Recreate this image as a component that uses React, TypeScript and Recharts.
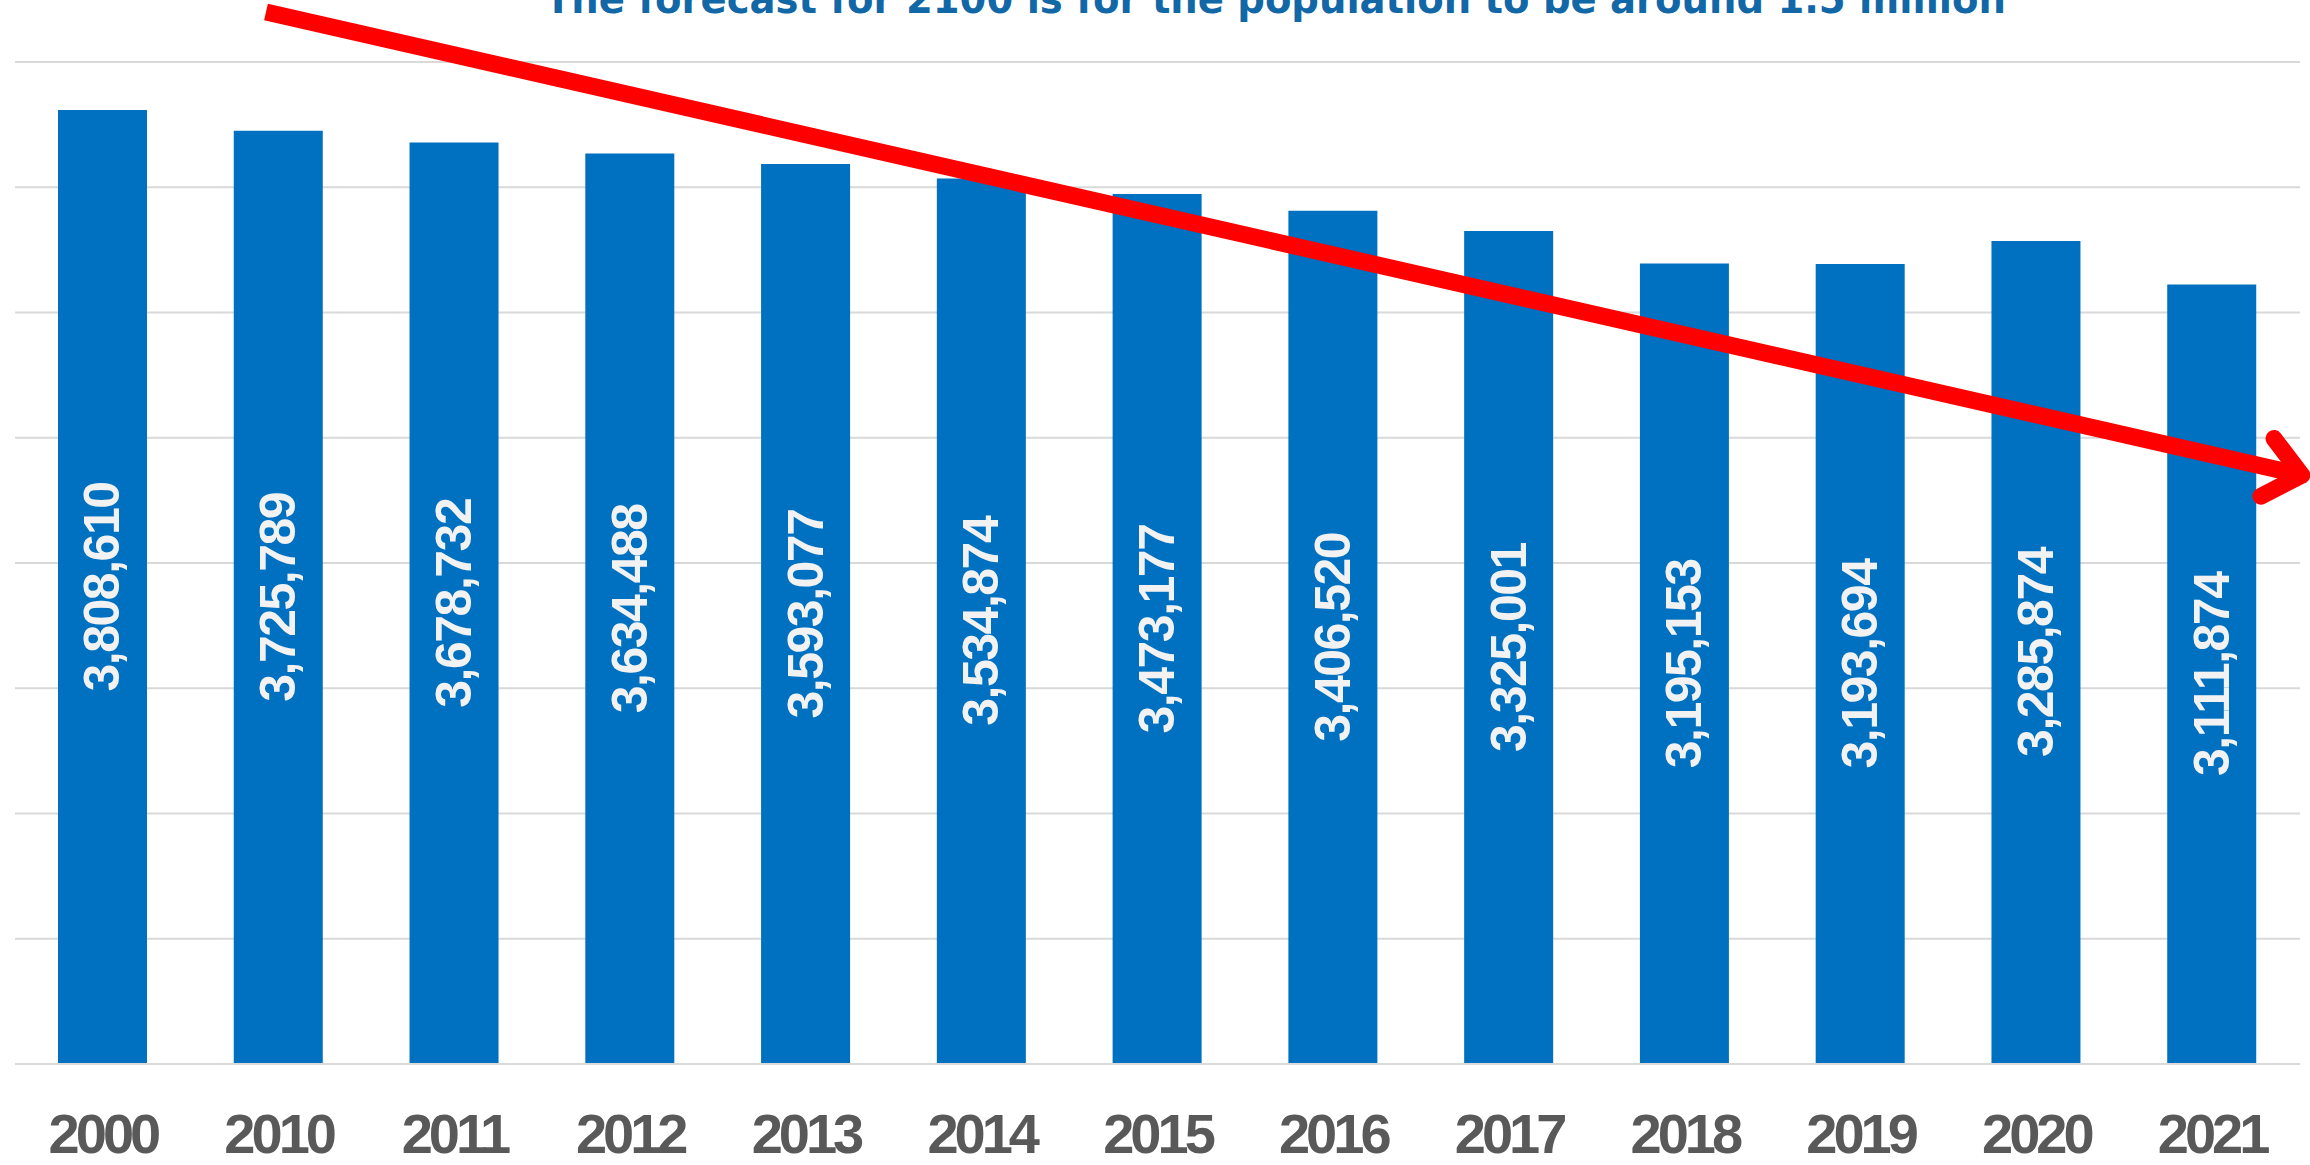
import { Bar, BarChart, CartesianGrid, LabelList, ReferenceLine, XAxis, YAxis } from 'recharts'

const years = ['2000', '2010', '2011', '2012', '2013', '2014', '2015', '2016', '2017', '2018', '2019', '2020', '2021']
const population = [
  3808610, 3725789, 3678732, 3634488, 3593077, 3534874, 3473177, 3406520, 3325001, 3195153, 3193694, 3285874, 3111874,
]
const yTicks = [0, 500000, 1000000, 1500000, 2000000, 2500000, 3000000, 3500000, 4000000]

// trend arrow, drawn between the 2010 and 2021 slots then stretched a bit past both ends
const trendFrom = { year: '2010', value: 4188000 }
const trendTo = { year: '2021', value: 2432000 }

const title = 'The forecast for 2100 is for the population to be around 1.5 million'

const data = years.map((year, i) => ({ year, population: population[i] }))

const W = 2310
const H = 1165
const RED = '#ff0000'

function YearTick({ x, y, payload }: any) {
  return (
    <text
      x={x}
      y={y + 89}
      textAnchor="middle"
      fill="#595959"
      fontSize={56}
      fontWeight={700}
      letterSpacing={-4}
      fontFamily="'Liberation Sans', Arial, sans-serif"
    >
      {payload.value}
    </text>
  )
}

function InsideLabel(props: any) {
  const { x, y, width, height, value } = props
  const cx = x + width / 2
  const cy = y + height / 2
  return (
    <text
      x={cx}
      y={cy}
      transform={`rotate(-90, ${cx}, ${cy})`}
      textAnchor="middle"
      dominantBaseline="central"
      fill="#f2f2f2"
      fontSize={50}
      fontWeight={700}
      letterSpacing={-1.5}
      fontFamily="'Liberation Sans', Arial, sans-serif"
    >
      {Number(value).toLocaleString('en-US')}
    </text>
  )
}

function TrendArrow(props: any) {
  const { x1, y1, x2, y2 } = props
  if ([x1, y1, x2, y2].some((v) => typeof v !== 'number' || isNaN(v))) return <g />
  const dx = x2 - x1
  const dy = y2 - y1
  const len = Math.hypot(dx, dy)
  const ux = dx / len
  const uy = dy / len
  const sx = x1 - ux * 13
  const sy = y1 - uy * 13
  const tx = x2 + ux * 92
  const ty = y2 + uy * 92
  const head = 46
  const ang = (40 * Math.PI) / 180
  const wing = (s: number) => {
    const bx = -ux
    const by = -uy
    const c = Math.cos(s * ang)
    const n = Math.sin(s * ang)
    return [tx + head * (bx * c - by * n), ty + head * (bx * n + by * c)]
  }
  const [ax, ay] = wing(1)
  const [bx, by] = wing(-1)
  return (
    <g>
      <line x1={sx} y1={sy} x2={tx - ux * 4} y2={ty - uy * 4} stroke={RED} strokeWidth={17} />
      <polyline
        points={`${ax},${ay} ${tx},${ty} ${bx},${by}`}
        fill="none"
        stroke={RED}
        strokeWidth={17}
        strokeLinecap="round"
        strokeLinejoin="round"
      />
    </g>
  )
}

export default function App() {
  return (
    <div style={{ position: 'absolute', left: 0, top: 0, width: W, height: H, background: '#fff', overflow: 'hidden' }}>
      <BarChart width={W} height={H} data={data} margin={{ top: 62, right: 10, left: 15, bottom: 0 }}>
        <CartesianGrid stroke="#d9d9d9" strokeWidth={2} vertical={false} />
        <XAxis
          dataKey="year"
          height={101}
          tickSize={0}
          tickMargin={0}
          tickLine={false}
          axisLine={{ stroke: '#d9d9d9', strokeWidth: 2 }}
          interval={0}
          tick={<YearTick />}
        />
        <YAxis hide domain={[0, 4000000]} ticks={yTicks} />
        <Bar dataKey="population" fill="#0070c0" barSize={89} isAnimationActive={false}>
          <LabelList dataKey="population" content={<InsideLabel />} />
        </Bar>
        <ReferenceLine
          segment={[
            { x: trendFrom.year, y: trendFrom.value },
            { x: trendTo.year, y: trendTo.value },
          ]}
          ifOverflow="visible"
          stroke={RED}
          strokeWidth={17}
          shape={(p: any) => <TrendArrow {...p} />}
        />
      </BarChart>
      <svg width={W} height={60} style={{ position: 'absolute', left: 0, top: 0, pointerEvents: 'none' }}>
        <text
          x={545}
          y={13}
          textLength={1461}
          lengthAdjust="spacingAndGlyphs"
          fill="#1268a6"
          fontSize={40}
          fontWeight={700}
          fontFamily="'DejaVu Sans', sans-serif"
        >
          {title}
        </text>
      </svg>
    </div>
  )
}
